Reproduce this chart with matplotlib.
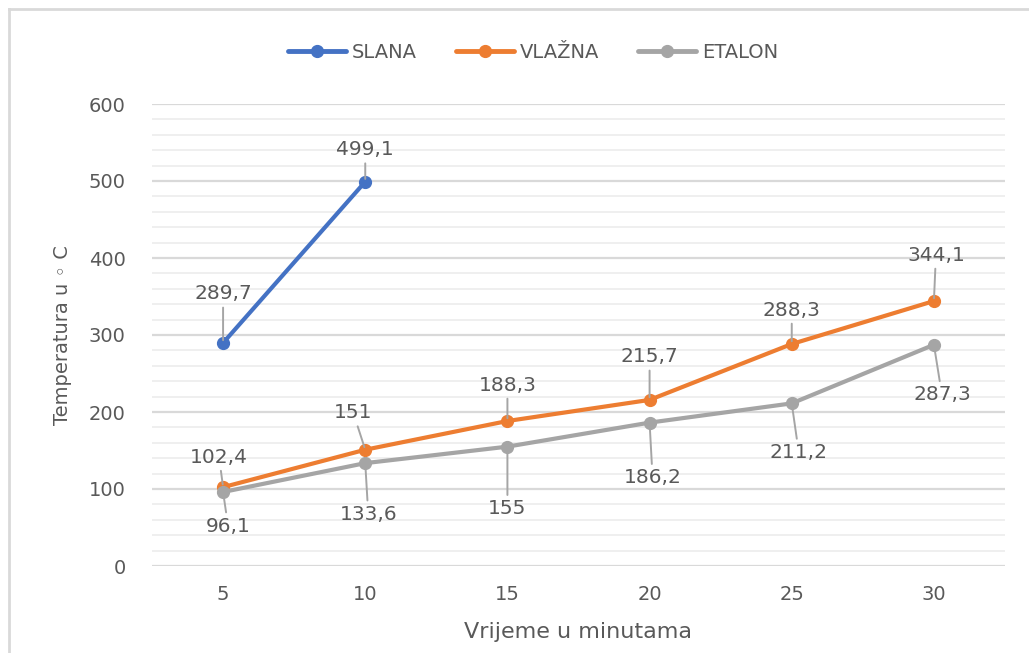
import matplotlib
matplotlib.use("Agg")
import matplotlib.pyplot as plt
from matplotlib.lines import Line2D
from matplotlib.ticker import MultipleLocator

# Data
minutes = [5, 10, 15, 20, 25, 30]
slana = [289.7, 499.1]
vlazna = [102.4, 151, 188.3, 215.7, 288.3, 344.1]
etalon = [96.1, 133.6, 155, 186.2, 211.2, 287.3]
series_names = ["SLANA", "VLAŽNA", "ETALON"]
y_ticks = [0, 100, 200, 300, 400, 500, 600]

colors = ["#4472C4", "#ED7D31", "#A5A5A5"]
text_color = "#595959"
font = "DejaVu Sans"

# Label offsets in pixels (dx, dy) for each data label
slana_off = [(0, 49), (0, 32)]
vlazna_off = [(-4, 30), (-12, 37), (0, 36), (0, 43), (0, 34), (2, 46)]
etalon_off = [(5, -34), (3, -51), (0, -62), (3, -55), (7, -49), (8, -50)]

fig = plt.figure(figsize=(10.29, 6.53), dpi=100)
ax = fig.add_axes([152 / 1029, 87 / 653, (1005 - 152) / 1029, (566 - 104) / 653])

# chart-area border (top and left visible)
fig.add_artist(Line2D([8.5 / 1029, 8.5 / 1029], [0, 1 - 8.5 / 653],
                      transform=fig.transFigure, color="#d9d9d9", lw=2))
fig.add_artist(Line2D([8.5 / 1029, 1], [1 - 8.5 / 653, 1 - 8.5 / 653],
                      transform=fig.transFigure, color="#d9d9d9", lw=2))

ax.set_xlim(2.5, 32.5)
ax.set_ylim(0, 600)
ax.set_yticks(y_ticks)
ax.set_xticks(minutes)
ax.yaxis.set_minor_locator(MultipleLocator(20))
ax.grid(which="major", axis="y", color="#d9d9d9", lw=1.6, zorder=0)
ax.grid(which="minor", axis="y", color="#efefef", lw=1.4, zorder=0)
for s in ax.spines.values():
    s.set_visible(False)
ax.tick_params(which="both", length=0)
ax.tick_params(axis="y", pad=19, labelsize=14, labelcolor=text_color)
ax.tick_params(axis="x", pad=14, labelsize=14, labelcolor=text_color)
for lab in ax.get_xticklabels() + ax.get_yticklabels():
    lab.set_family(font)

series = [(minutes[:len(slana)], slana, slana_off),
          (minutes, vlazna, vlazna_off),
          (minutes, etalon, etalon_off)]

for (xs, ys, offs), name, c in zip(series, series_names, colors):
    ax.plot(xs, ys, color=c, lw=3, marker="o", ms=8.5, label=name,
            solid_capstyle="round", zorder=3)
    for x, y, (dx, dy) in zip(xs, ys, offs):
        txt = f"{y:g}".replace(".", ",")
        ax.annotate(txt, (x, y), xytext=(dx, dy), textcoords="offset pixels",
                    ha="center", va="center", fontsize=14.5, color=text_color,
                    family=font, zorder=5,
                    arrowprops=dict(arrowstyle="-", color="#A5A5A5", lw=1.4,
                                    shrinkA=1, shrinkB=2))

ax.set_xlabel("Vrijeme u minutama", fontsize=16, color=text_color, family=font,
              labelpad=13)
ax.set_ylabel("Temperatura u ◦ C", fontsize=14, color=text_color, family=font,
              labelpad=12)

leg = fig.legend(loc="center", bbox_to_anchor=(533 / 1029, 1 - 52 / 653),
                 ncol=3, frameon=False, handlelength=3.0,
                 columnspacing=2.0, handletextpad=0.3,
                 prop={"family": font, "size": 14})
for t in leg.get_texts():
    t.set_color(text_color)
for h in leg.legend_handles:
    h.set_linewidth(3.5)

fig.savefig("out.png", dpi=100, facecolor="white")
